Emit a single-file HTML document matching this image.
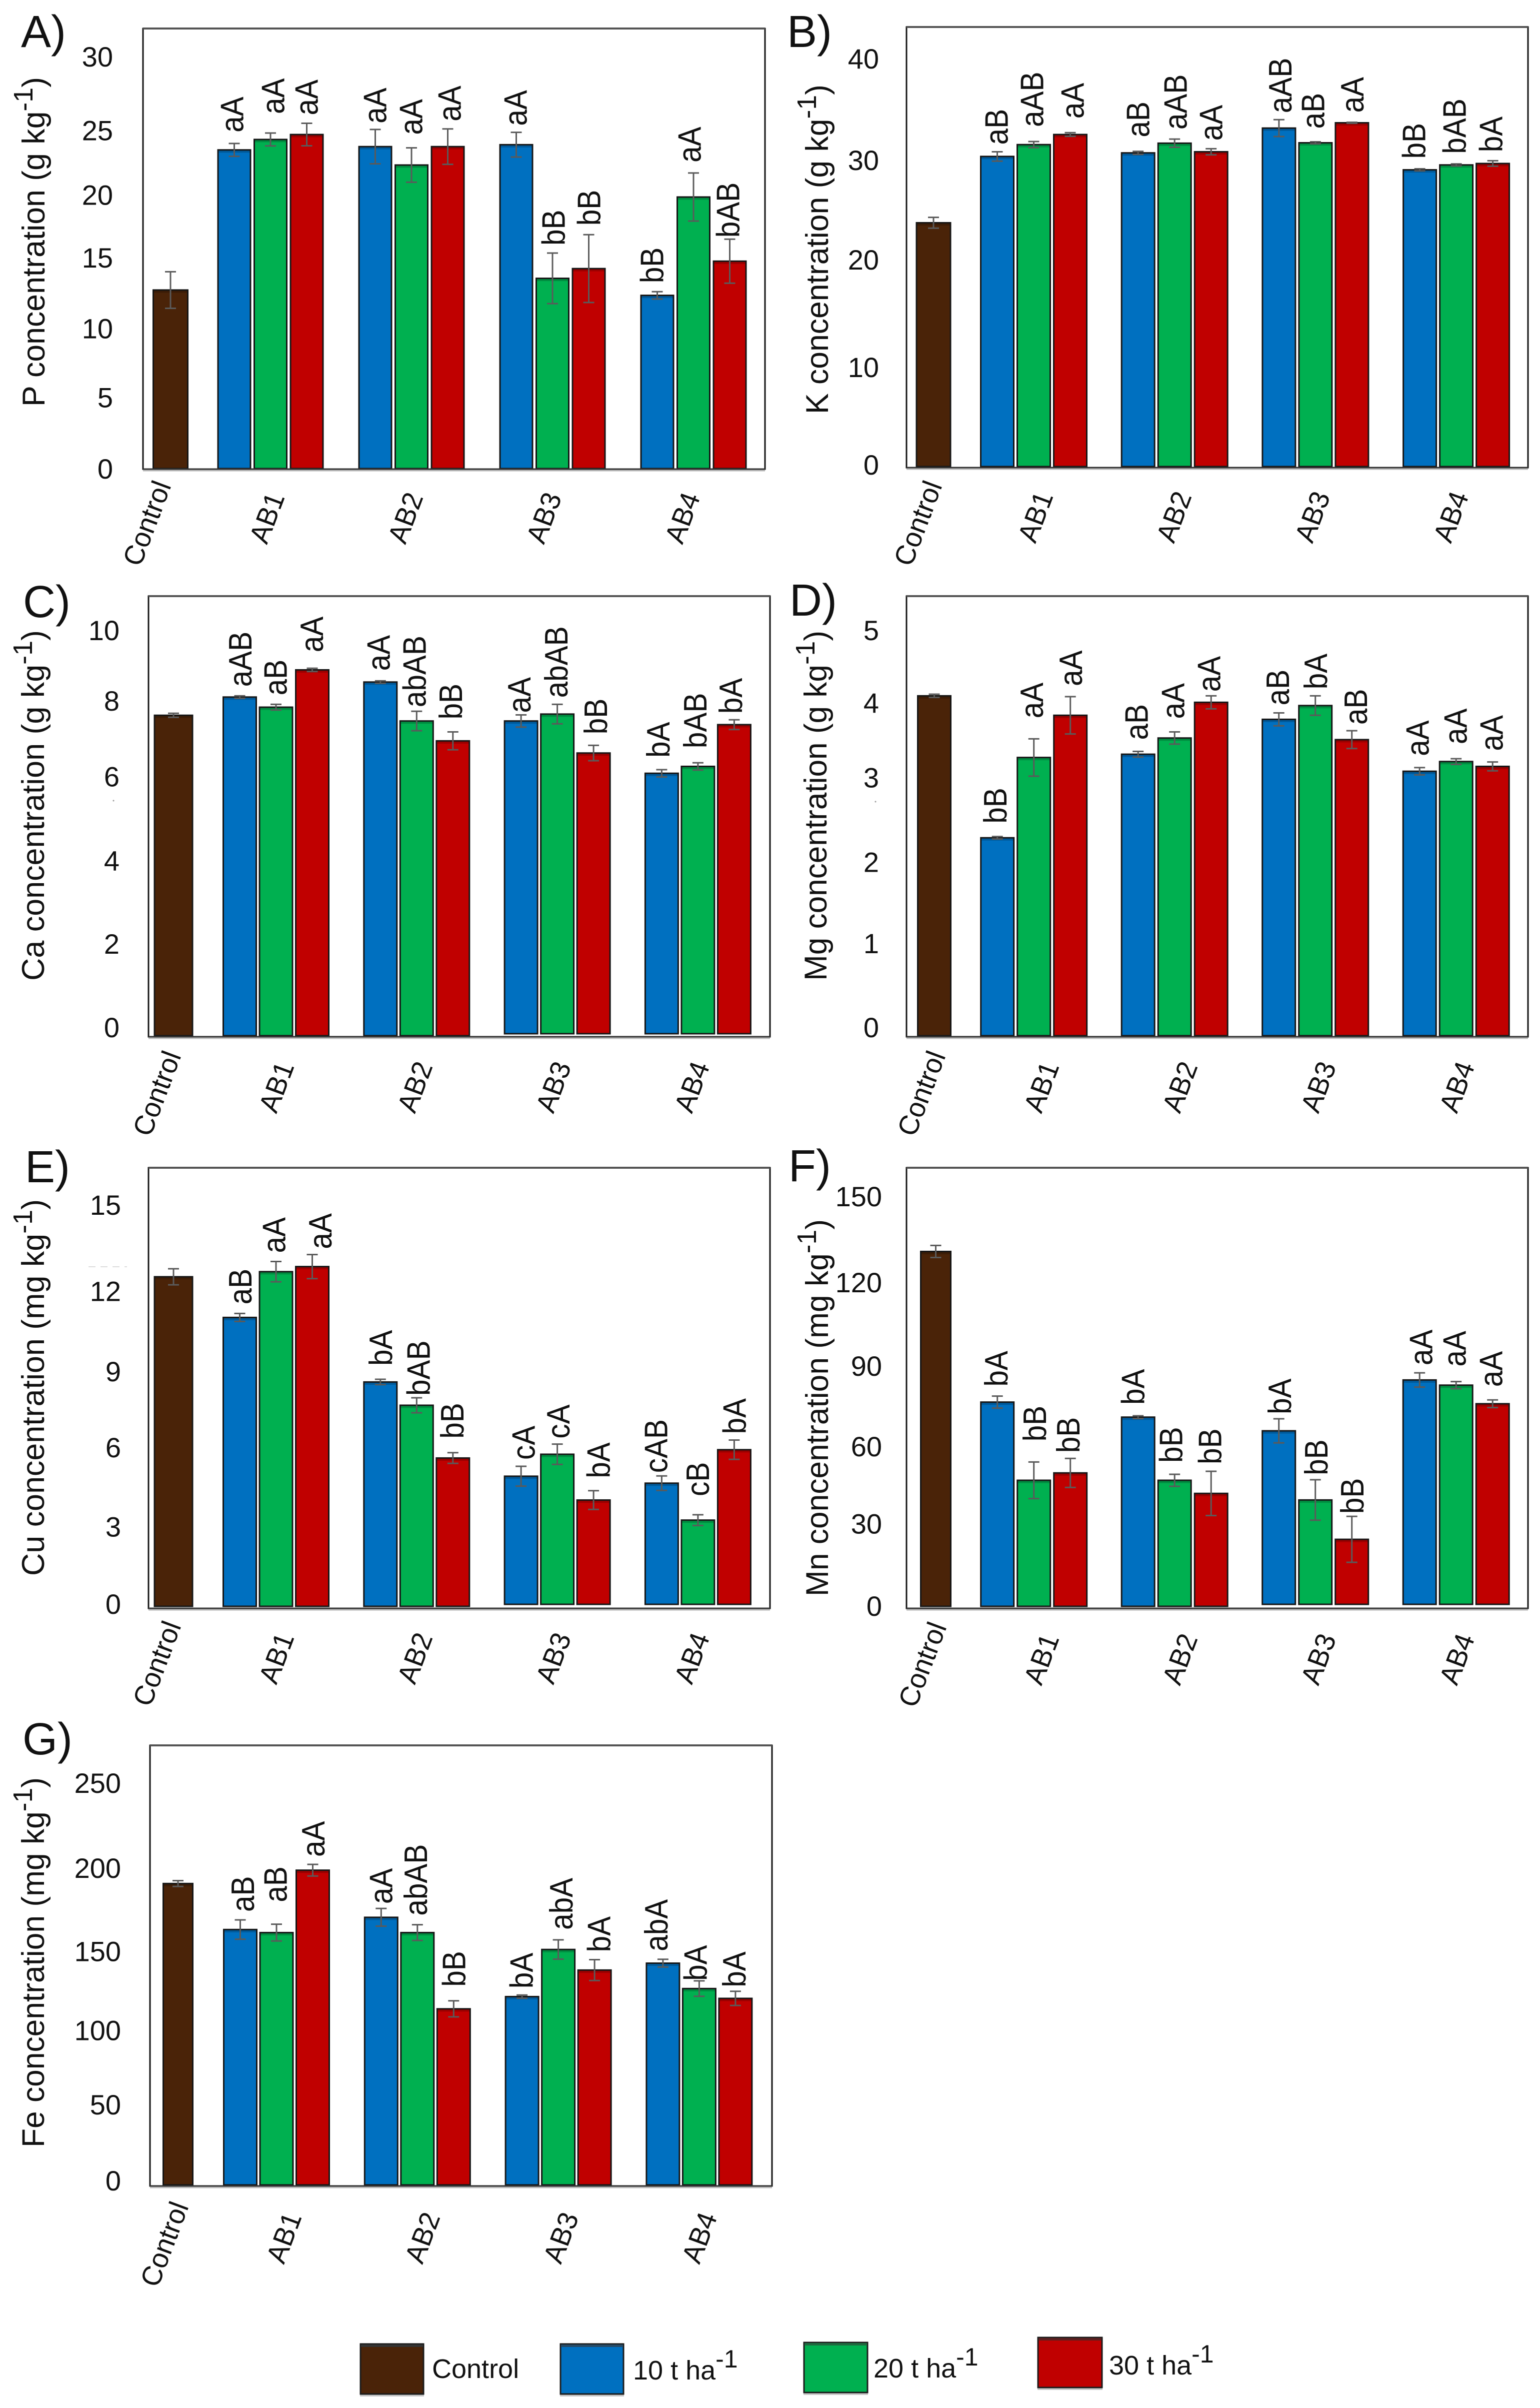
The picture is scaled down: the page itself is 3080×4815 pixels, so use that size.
<!DOCTYPE html>
<html lang="en">
<head>
<meta charset="utf-8">
<title>Nutrient concentration bar charts</title>
<style>
html,body{margin:0;padding:0;background:#fff;}
svg{display:block;}
text{font-family:"Liberation Sans",Arial,sans-serif;fill:#111;}
</style>
</head>
<body>
<svg id="figure" xmlns="http://www.w3.org/2000/svg" width="3080" height="4815" viewBox="0 0 3080 4815">
  <rect x="0" y="0" width="3080" height="4815" fill="#fff"/>
  <line x1="177" y1="2533" x2="254" y2="2533" stroke="#ddd" stroke-width="2" stroke-dasharray="14 10"/>
  <circle cx="227" cy="1601" r="1.5" fill="#999"/>
  <circle cx="1751" cy="1603" r="1.5" fill="#999"/>
  <g font-size="54">
    <g>
      <rect x="720" y="4787" width="128" height="5" fill="#c8c8c8"/>
      <rect x="721" y="4687" width="126" height="100" fill="#4a2308" stroke="#1a1a1a" stroke-width="3"/>
      <rect x="722" y="4688" width="124" height="5" fill="#333"/>
      <text x="864" y="4755">Control</text>
    </g>
    <g>
      <rect x="1120" y="4787" width="128" height="5" fill="#c8c8c8"/>
      <rect x="1121" y="4687" width="126" height="100" fill="#0070c0" stroke="#1a1a1a" stroke-width="3"/>
      <rect x="1122" y="4688" width="124" height="5" fill="#264a66"/>
      <text x="1266" y="4758">10 t ha<tspan font-size="50" dy="-24">-1</tspan></text>
    </g>
    <g>
      <rect x="1607" y="4784" width="129" height="5" fill="#c8c8c8"/>
      <rect x="1608" y="4684" width="127" height="100" fill="#00b050" stroke="#1a1a1a" stroke-width="3"/>
      <rect x="1609" y="4685" width="125" height="5" fill="#1f6a3f"/>
      <text x="1747" y="4754">20 t ha<tspan font-size="50" dy="-24">-1</tspan></text>
    </g>
    <g>
      <rect x="2075" y="4774" width="130" height="5" fill="#c8c8c8"/>
      <rect x="2076" y="4674" width="128" height="100" fill="#c00000" stroke="#1a1a1a" stroke-width="3"/>
      <rect x="2077" y="4675" width="126" height="5" fill="#5a2020"/>
      <text x="2218" y="4748">30 t ha<tspan font-size="50" dy="-24">-1</tspan></text>
    </g>
  </g>
</svg>
<script>
// ---- data: each value array is Control, then AB1..AB4 at 10, 20, 30 t/ha ----
const categories = ['Control', 'AB1', 'AB2', 'AB3', 'AB4'];
const rates = ['10', '20', '30'];

const pTicks = [0, 5, 10, 15, 20, 25, 30];
const pValues = [13.0, 23.2, 23.96, 24.32, 23.44, 22.1, 23.44, 23.58, 13.85, 14.56, 12.61, 19.77, 15.1];
const pErrors = [1.33, 0.47, 0.47, 0.82, 1.25, 1.25, 1.29, 0.9, 1.84, 2.47, 0.27, 1.75, 1.6];
const pLetters = ['aA', 'aA', 'aA', 'aA', 'aA', 'aA', 'aA', 'bB', 'bB', 'bB', 'aA', 'bAB'];

const kTicks = [0, 10, 20, 30, 40];
const kValues = [23.9, 30.4, 31.56, 32.55, 30.75, 31.7, 30.86, 33.18, 31.74, 33.7, 29.09, 29.57, 29.71];
const kErrors = [0.53, 0.46, 0.3, 0.18, 0.15, 0.4, 0.3, 0.83, 0.1, 0.05, 0.1, 0.1, 0.27];
const kLetters = ['aB', 'aAB', 'aA', 'aB', 'aAB', 'aA', 'aAB', 'aB', 'aA', 'bB', 'bAB', 'bA'];

const caTicks = [0, 2, 4, 6, 8, 10];
const caValues = [7.9, 8.35, 8.1, 9.02, 8.72, 7.76, 7.27, 7.76, 7.93, 6.97, 6.47, 6.64, 7.67];
const caErrors = [0.05, 0.03, 0.07, 0.04, 0.03, 0.24, 0.22, 0.15, 0.24, 0.19, 0.09, 0.09, 0.12];
const caLetters = ['aAB', 'aB', 'aA', 'aA', 'abAB', 'bB', 'aA', 'abAB', 'bB', 'bA', 'bAB', 'bA'];

const mgTicks = [0, 1, 2, 3, 4, 5];
const mgValues = [4.19, 2.44, 3.43, 3.95, 3.47, 3.67, 4.11, 3.9, 4.07, 3.65, 3.26, 3.38, 3.32];
const mgErrors = [0.02, 0.015, 0.23, 0.23, 0.035, 0.075, 0.08, 0.08, 0.12, 0.11, 0.045, 0.035, 0.055];
const mgLetters = ['bB', 'aA', 'aA', 'aB', 'aA', 'aA', 'aB', 'bA', 'aB', 'aA', 'aA', 'aA'];

const cuTicks = [0, 3, 6, 9, 12, 15];
const cuValues = [12.31, 10.79, 12.5, 12.69, 8.38, 7.51, 5.54, 4.86, 5.68, 3.97, 4.6, 3.22, 5.85];
const cuErrors = [0.3, 0.15, 0.38, 0.45, 0.1, 0.28, 0.2, 0.37, 0.38, 0.35, 0.27, 0.2, 0.36];
const cuLetters = ['aB', 'aA', 'aA', 'bA', 'bAB', 'bB', 'cA', 'cA', 'bA', 'cAB', 'cB', 'bA'];

const mnTicks = [0, 30, 60, 90, 120, 150];
const mnValues = [129.8, 74.7, 46.1, 48.8, 69.2, 46.1, 41.3, 64.2, 38.9, 24.5, 82.8, 80.9, 74.1];
const mnErrors = [2.2, 2.2, 6.7, 5.3, 0.5, 2.2, 8.1, 4.4, 7.4, 8.4, 2.6, 1.3, 1.4];
const mnLetters = ['bA', 'bB', 'bB', 'bA', 'bB', 'bB', 'bA', 'bB', 'bB', 'aA', 'aA', 'aA'];

const feTicks = [0, 50, 100, 150, 200, 250];
const feValues = [187.4, 158.8, 156.9, 195.7, 166.4, 156.9, 109.5, 117.1, 146.4, 133.6, 137.9, 122.1, 116];
const feErrors = [1.8, 6, 5.2, 3.6, 5.5, 4.9, 5, 1, 6, 6.5, 2.4, 4.8, 4.4];
const feLetters = ['aB', 'aB', 'aA', 'aA', 'abAB', 'bB', 'bA', 'abA', 'bA', 'abA', 'bA', 'bA'];

// ---- layout ----
const colors = ['#4a2308', '#0070c0', '#00b050', '#c00000'];
const tickFont = 56, letterFont = 65, letterSquash = 0.9, catFont = 57, titleFont = 63, supFont = 54, panelFont = 90;

const panels = [
  { key: 'p', panelLabel: 'A)', title: 'P concentration (g kg', ticks: pTicks, values: pValues, errors: pErrors, letters: pLetters,
    frame: { l: 286, r: 1530, t: 57, b: 938 }, yZero: 937, yTop: 113, baseLift: 0,
    tickNudge: [0, -5, -6, -10, 2, 10, 0], tickX: 226,
    ctrlX: 341, ctrlW: 69, g0: 541, gStep: 282, barStep: 72.5, barW: 65,
    letterGap: [22, 38, 16, 12, 26, 15, 13, 15, 18, 17, 21, 3],
    letterDx: [-5.5, 4, -1.5, -1.5, -2, 2.5, -2.5, 1, -0.5, -11.5, -9, -4.5],
    titleX: 89, titleY: 813, titleLen: 659, panelX: 42, panelY: 94,
    ctrlLabX: 293, ctrlLabY: 1046, cat0: 533, catStep: 277, catY: 1035 },
  { key: 'k', panelLabel: 'B)', title: 'K concentration (g kg', ticks: kTicks, values: kValues, errors: kErrors, letters: kLetters,
    frame: { l: 1813, r: 3056, t: 54, b: 935 }, yZero: 933, yTop: 117, baseLift: 0,
    tickNudge: [-4, 5, -6, -1, 0], tickX: 1758,
    ctrlX: 1867, ctrlW: 68, g0: 2067.5, gStep: 281.7, barStep: 73, barW: 66,
    letterGap: [14, 29, 28, 28, 19, 16, 13, 26, 19, 20, 20, 17],
    letterDx: [-2.5, -4.5, 3.5, -1, 1, -1, 2, -5.5, 0, -12.5, -4.5, -4.5],
    titleX: 1656, titleY: 828, titleLen: 659, panelX: 1574, panelY: 94,
    ctrlLabX: 1835, ctrlLabY: 1046, cat0: 2070, catStep: 277, catY: 1033 },
  { key: 'ca', panelLabel: 'C)', title: 'Ca concentration (g kg', ticks: caTicks, values: caValues, errors: caErrors, letters: caLetters,
    frame: { l: 297, r: 1540, t: 1192, b: 2073 }, yZero: 2071, yTop: 1260, baseLift: 4,
    tickNudge: [-17, -22, -26, -32, -21, 0], tickX: 239,
    ctrlX: 347, ctrlW: 76, g0: 552, gStep: 281.3, barStep: 72.5, barW: 66,
    letterGap: [18, 18, 32, 20, 8, 25, 4, 13, 22, 24, 29, 12],
    letterDx: [0, -2, -2, -4.5, -5, -5, -4.5, -3, 3.5, -7.5, -6, -7.5],
    titleX: 88, titleY: 1961, titleLen: 701, panelX: 46, panelY: 1234,
    ctrlLabX: 313, ctrlLabY: 2186, cat0: 552, catStep: 277, catY: 2173 },
  { key: 'mg', panelLabel: 'D)', title: 'Mg concentration (g kg', ticks: mgTicks, values: mgValues, errors: mgErrors, letters: mgLetters,
    frame: { l: 1813, r: 3056, t: 1192, b: 2073 }, yZero: 2071, yTop: 1260, baseLift: 0,
    tickNudge: [-17, -23, -23, -30, -17, 0], tickX: 1758,
    ctrlX: 1868.5, ctrlW: 66, g0: 2067.7, gStep: 281.5, barStep: 73, barW: 66,
    letterGap: [26, 41, 21, 23, 26, 8, 15, 13, 12, 23, 29, 22],
    letterDx: [-5, -5, 0, -4, -4, -5, -3, 0, 7, -5, -2, -3],
    titleX: 1653, titleY: 1961, titleLen: 700, panelX: 1579, panelY: 1231,
    ctrlLabX: 1842, ctrlLabY: 2186, cat0: 2082, catStep: 277, catY: 2173 },
  { key: 'cu', panelLabel: 'E)', title: 'Cu concentration (mg kg', ticks: cuTicks, values: cuValues, errors: cuErrors, letters: cuLetters,
    frame: { l: 297, r: 1540, t: 2335, b: 3216 }, yZero: 3212, yTop: 2409, baseLift: 4,
    tickNudge: [-5, 1, 3, 12, 12, 0], tickX: 242,
    ctrlX: 347, ctrlW: 76, g0: 552, gStep: 281.3, barStep: 72.5, barW: 66,
    letterGap: [18, 17, 11, 27, 4, 28, 13, 11, 25, 6, 37, 12],
    letterDx: [0, -5, 15, 0, 3, -2, 4, 1, 9, -12, -1, 0],
    titleX: 88, titleY: 3151, titleLen: 753, panelX: 50, panelY: 2364,
    ctrlLabX: 313, ctrlLabY: 3326, cat0: 552, catStep: 277, catY: 3315 },
  { key: 'mn', panelLabel: 'F)', title: 'Mn concentration (mg kg', ticks: mnTicks, values: mnValues, errors: mnErrors, letters: mnLetters,
    frame: { l: 1813, r: 3056, t: 2335, b: 3216 }, yZero: 3212, yTop: 2392, baseLift: 4,
    tickNudge: [-1, -1.5, 8, 11, 8, 0], tickX: 1764,
    ctrlX: 1871.5, ctrlW: 60, g0: 2067.7, gStep: 281.5, barStep: 73, barW: 66,
    letterGap: [19, 41, 11, 22, 23, 14, 9, 9, 5, 15, 30, 26],
    letterDx: [-3, 1, -5, -11, -8, -3, 1, 1, 0, 2, -4, -4],
    titleX: 1656, titleY: 3192, titleLen: 754, panelX: 1577, panelY: 2362,
    ctrlLabX: 1844, ctrlLabY: 3328, cat0: 2082, catStep: 277, catY: 3317 },
  { key: 'fe', panelLabel: 'G)', title: 'Fe concentration (mg kg', ticks: feTicks, values: feValues, errors: feErrors, letters: feLetters,
    frame: { l: 300, r: 1544, t: 3490, b: 4371 }, yZero: 4369, yTop: 3565, baseLift: 0,
    tickNudge: [-9, 0, 12, 15, 9, 0], tickX: 242,
    ctrlX: 356, ctrlW: 59, g0: 553, gStep: 281.8, barStep: 72.5, barW: 66,
    letterGap: [16, 44, 15, 9, 18, 28, 13, 20, 15, 16, 0, 8],
    letterDx: [4, -3, 0, -1, -4, 0, -2, 5, 8, -14, -8, -3],
    titleX: 88, titleY: 4294, titleLen: 740, panelX: 45, panelY: 3508,
    ctrlLabX: 328, ctrlLabY: 4487, cat0: 567, catStep: 277, catY: 4474 }
];

const SVG_NS = 'http://www.w3.org/2000/svg';
const root = document.getElementById('figure');

function make(parent, tag, attrs, text) {
  const el = document.createElementNS(SVG_NS, tag);
  for (const k in attrs) el.setAttribute(k, attrs[k]);
  if (text !== undefined) el.textContent = text;
  parent.appendChild(el);
  return el;
}

function drawPanel(p) {
  const maxTick = p.ticks[p.ticks.length - 1];
  const yScale = function (v) { return p.yZero - (v / maxTick) * (p.yZero - p.yTop); };
  const barCenter = function (g, r) { return p.g0 + g * p.gStep + (r - 1) * p.barStep; };

  const g = make(root, 'g', {});
  
  

  const plotBg = make(g, 'rect', { x: p.frame.l, y: p.frame.t, width: p.frame.r - p.frame.l, height: p.frame.b - p.frame.t, fill: '#fff', stroke: '#111', 'stroke-width': 3 });
  
  

  const topEdge = make(g, 'line', { x1: p.frame.l, x2: p.frame.r, y1: p.frame.t, y2: p.frame.t, stroke: '#555', 'stroke-width': 4 });
  
  

  const panelText = make(g, 'text', { x: p.panelX, y: p.panelY, 'font-size': panelFont }, p.panelLabel);
  
  

  const title = make(g, 'text', { transform: 'translate(' + p.titleX + ',' + p.titleY + ') rotate(-90)', 'font-size': titleFont, textLength: p.titleLen, lengthAdjust: 'spacingAndGlyphs' });
  
  
  make(title, 'tspan', {}, p.title);
  make(title, 'tspan', { dy: -24, 'font-size': supFont }, '-1');
  make(title, 'tspan', { dy: 24 }, ')');

  p.ticks.forEach(function (t, i) {
    const label = make(g, 'text', { x: p.tickX, y: yScale(t) + p.tickNudge[i] + 0.358 * tickFont, 'font-size': tickFont, 'text-anchor': 'end' }, String(t));
    
    
  });

  const drawBar = function (cx, w, value, err, color, name, lift) {
    const top = yScale(value);
    const bar = make(g, 'rect', { x: cx - w / 2, y: top, width: w, height: p.yZero - lift - top, fill: color, stroke: '#151515', 'stroke-width': 3 });
    
    
    const band = make(g, 'rect', { x: cx - w / 2 + 1.5, y: top + 1.5, width: w - 3, height: 4, fill: '#000', 'fill-opacity': 0.2 });
    
    
    const hi = yScale(value + err), lo = yScale(value - err);
    const whisker = make(g, 'path', { d: 'M' + cx + ' ' + hi + 'V' + lo + 'M' + (cx - 11) + ' ' + hi + 'H' + (cx + 11) + 'M' + (cx - 11) + ' ' + lo + 'H' + (cx + 11), stroke: '#5a5a5a', 'stroke-width': 3, fill: 'none' });
    
    
    return hi;
  };

  drawBar(p.ctrlX, p.ctrlW, p.values[0], p.errors[0], colors[0], 'bar-control', 0);

  for (let gi = 0; gi < 4; gi++) {
    const lift = gi >= 2 ? p.baseLift : 0;
    for (let r = 0; r < 3; r++) {
      const idx = gi * 3 + r;
      const cx = barCenter(gi, r);
      const hi = drawBar(cx, p.barW, p.values[idx + 1], p.errors[idx + 1], colors[r + 1], 'bar-' + categories[gi + 1].toLowerCase() + '-' + rates[r], lift);
      const lx = cx + p.letterDx[idx] + 0.358 * letterFont;
      const ly = hi - p.letterGap[idx];
      const letter = make(g, 'text', { transform: 'translate(' + lx + ',' + ly + ') rotate(-90) scale(' + letterSquash + ',1)', 'font-size': letterFont }, p.letters[idx]);
      
      
    }
  }

  const axis = make(g, 'line', { x1: p.frame.l, x2: p.frame.r, y1: p.frame.b, y2: p.frame.b, stroke: '#333', 'stroke-width': 3 });
  
  
  const shadow = make(g, 'line', { x1: p.frame.l, x2: p.frame.r, y1: p.frame.b + 3, y2: p.frame.b + 3, stroke: '#bbb', 'stroke-width': 3 });
  
  

  categories.forEach(function (c, i) {
    const cx = i === 0 ? p.ctrlLabX : p.cat0 + (i - 1) * p.catStep;
    const cy = i === 0 ? p.ctrlLabY : p.catY;
    // sheared rotation: the source figure's slanted labels lean like italics
    const cat = make(g, 'text', { transform: 'matrix(0.34,-0.896,0.92,0.34,' + cx + ',' + cy + ')', 'font-size': catFont, 'text-anchor': 'middle', y: 0.36 * catFont }, c);
    
    
  });
}

panels.forEach(drawPanel);
</script>
</body>
</html>
